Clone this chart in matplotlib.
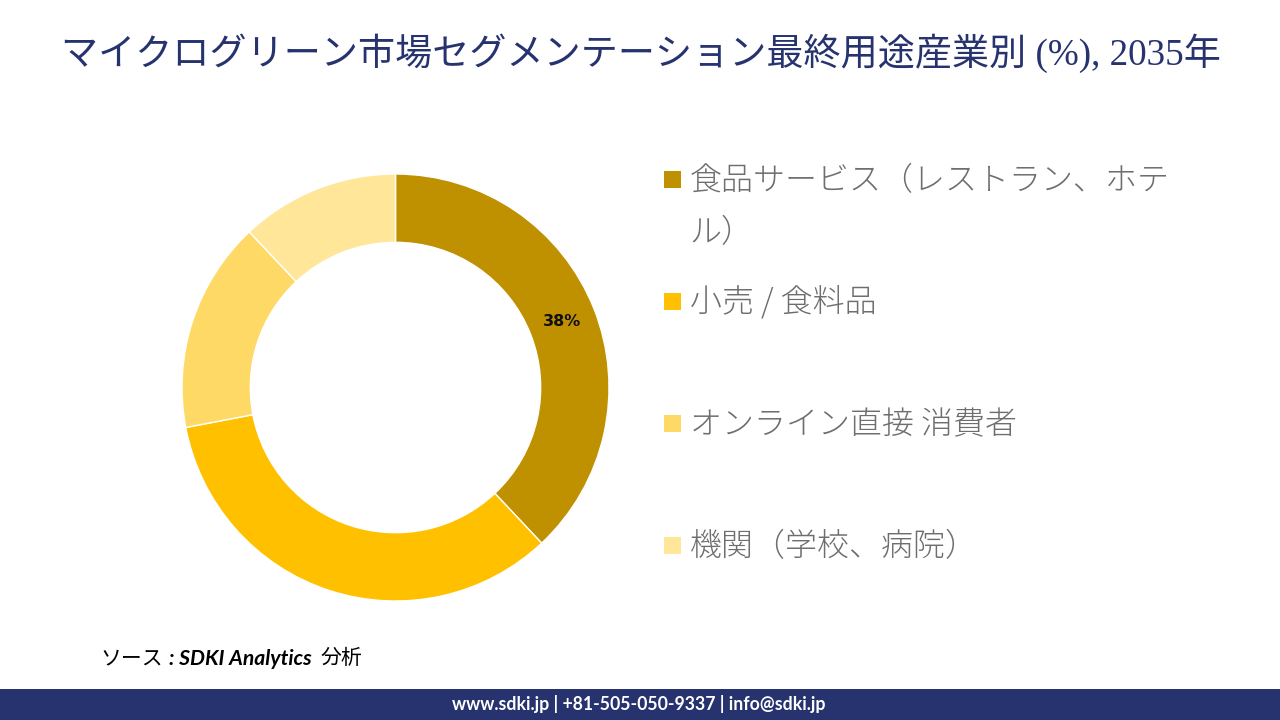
import matplotlib
matplotlib.use("Agg")
import matplotlib.pyplot as plt
from matplotlib.patches import Rectangle

W, H = 1280, 720
JP = 'Noto Sans CJK JP'

title = "マイクログリーン市場セグメンテーション最終用途産業別 (%), 2035年"
categories = ["食品サービス（レストラン、ホテル）", "小売 / 食料品", "オンライン直接 消費者", "機関（学校、病院）"]
legend_lines = [["食品サービス（レストラン、ホテ", "ル）"], ["小売 / 食料品"], ["オンライン直接 消費者"], ["機関（学校、病院）"]]
values = [38, 34, 16, 12]
shown_labels = {38: "38%"}
colors = ["#BF9000", "#FFC000", "#FFD966", "#FFE699"]
source_parts = ["ソース", ": SDKI Analytics", "分析"]
footer = "www.sdki.jp | +81-505-050-9337 | info@sdki.jp"
NAVY = "#26336E"

fig = plt.figure(figsize=(W / 100, H / 100), dpi=100, facecolor="white")
bg = fig.add_axes([0, 0, 1, 1])
bg.set_xlim(0, W)
bg.set_ylim(H, 0)
bg.axis("off")

# Donut
cx, cy, R = 395.5, 387.5, 213.5
ax = fig.add_axes([(cx - R) / W, 1 - (cy + R) / H, 2 * R / W, 2 * R / H])
ax.pie(values, colors=colors, startangle=90, counterclock=False, radius=1,
       wedgeprops=dict(width=0.32, edgecolor="white", linewidth=1.0),
       autopct=lambda p: shown_labels.get(round(p), ""), pctdistance=0.84,
       textprops=dict(family=["DejaVu Sans", JP], fontsize=11.5, fontweight="bold", color="#111111"))
ax.set_xlim(-1, 1)
ax.set_ylim(-1, 1)

# Title
bg.text(641, 53, title, ha="center", va="center", color=NAVY, fontsize=26.7,
        family=["Liberation Serif", JP])

# Legend
row_y = [179, 301, 423, 545]
for lines, c, y in zip(legend_lines, colors, row_y):
    bg.add_patch(Rectangle((664, y - 8), 17, 17, facecolor=c, edgecolor="none"))
    for i, line in enumerate(lines):
        bg.text(689.5, y + 2 + i * 52, line, ha="left", va="center", color="#6E6E6E",
                fontsize=23, fontweight="light", family=["Noto Sans CJK JP", "Lato"])

# Source
bg.text(100, 658, source_parts[0], ha="left", va="center", color="black", fontsize=15,
        family=[JP])
bg.text(169, 659, source_parts[1], ha="left", va="center", color="black", fontsize=15.2,
        fontweight="bold", style="italic", family=["Lato"])
bg.text(321, 658, source_parts[2], ha="left", va="center", color="black", fontsize=15,
        family=[JP])

# Footer
bg.add_patch(Rectangle((0, 689), W, 31, facecolor=NAVY, edgecolor="none"))
bg.text(639, 704, footer, ha="center", va="center", color="white", fontsize=12.7,
        fontweight="bold", family=["Lato", JP])

fig.savefig("out.png", dpi=100, facecolor="white")
